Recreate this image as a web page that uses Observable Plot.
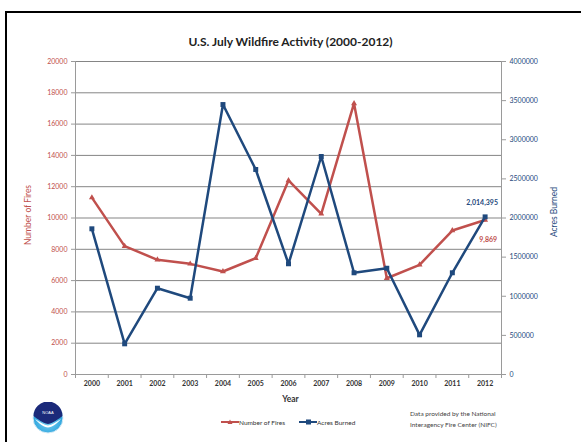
<!DOCTYPE html>
<html>
<head>
<meta charset="utf-8">
<script src="https://cdn.jsdelivr.net/npm/d3@7"></script>
<script src="https://cdn.jsdelivr.net/npm/@observablehq/plot@0.6"></script>
<style>
  html, body { margin: 0; padding: 0; background: #fff; }
  #wrap { position: relative; width: 581px; height: 442px; overflow: hidden; font-family: Lato, "Open Sans", sans-serif; }
  #border { position: absolute; left: 5px; top: 11px; width: 600px; height: 460px; border-left: 2px solid #000; border-top: 2px solid #000; }
  .abs { position: absolute; white-space: nowrap; }
  svg { position: absolute; left: 0; top: 0; }
</style>
</head>
<body>
<div id="wrap">
  <div id="border"></div>
  <div id="chart"></div>
  <div class="abs" style="left:0;width:581px;top:34px;text-align:center;font-weight:bold;font-size:12px;color:#222;">U.S. July Wildfire Activity (2000-2012)</div>
  <div class="abs" style="left:0;width:581px;top:394px;text-align:center;font-weight:bold;font-size:8.5px;color:#333;">Year</div>
  <div class="abs" style="left:28px;top:215px;transform:translate(-50%,-50%) rotate(-90deg);font-size:8.5px;color:#c0504d;">Number of Fires</div>
  <div class="abs" style="left:554px;top:212px;transform:translate(-50%,-50%) rotate(-90deg);font-size:8.5px;color:#1f497d;">Acres Burned</div>
  <div class="abs" style="left:221px;top:418px;font-size:6.5px;color:#333;display:flex;align-items:center;">
    <svg width="18" height="8" style="position:static"><line x1="0" y1="4" x2="18" y2="4" stroke="#c0504d" stroke-width="2"/><path d="M9,1.5 L11.5,6 L6.5,6Z" fill="#c0504d"/></svg>
    <span>Number of Fires</span>
    <span style="display:inline-block;width:14px"></span>
    <svg width="18" height="8" style="position:static"><line x1="0" y1="4" x2="18" y2="4" stroke="#1f497d" stroke-width="2"/><rect x="7" y="1.5" width="5" height="5" fill="#1f497d"/></svg>
    <span>Acres Burned</span>
  </div>
  <div class="abs" style="left:410px;top:408px;font-size:6.5px;color:#444;line-height:11px;">Data provided by the National<br>Interagency Fire Center (NIFC)</div>
  <svg class="abs" style="left:32px;top:402px" width="32" height="32" viewBox="0 0 32 32">
    <defs><radialGradient id="g" cx="50%" cy="60%" r="60%"><stop offset="0" stop-color="#7fd3f5"/><stop offset="1" stop-color="#1a9ad8"/></radialGradient></defs>
    <circle cx="16" cy="16" r="15" fill="url(#g)" stroke="#d6eaf5" stroke-width="1"/>
    <path d="M1.5,14 A14.5,14.5 0 0 1 30.5,14 C26,17 22,21 16,22 C10,21 6,17 1.5,14Z" fill="#1b2a7a"/>
    <path d="M3,17 C8,20 12,23 16,23.5 C20,23 24,20 29,17 C25,22 20,25 16,25.5 C12,25 7,22 3,17Z" fill="#fff"/>
    <text x="16" y="12" font-size="4" fill="#fff" text-anchor="middle" font-family="sans-serif">NOAA</text>
  </svg>
</div>
<script>
const years = [2000, 2001, 2002, 2003, 2004, 2005, 2006, 2007, 2008, 2009, 2010, 2011, 2012];
const fires = [11300, 8200, 7330, 7070, 6580, 7430, 12400, 10270, 17320, 6150, 7010, 9200, 9869];
const acres = [1862000, 392000, 1103000, 975000, 3450000, 2620000, 1415000, 2786000, 1300000, 1358000, 507000, 1300000, 2014395];
const fireTicks = [0, 2000, 4000, 6000, 8000, 10000, 12000, 14000, 16000, 18000, 20000];
const acresTicks = [0, 500000, 1000000, 1500000, 2000000, 2500000, 3000000, 3500000, 4000000];
const fireMax = 20000, acresMax = 4000000;
const labelFires = "9,869", labelAcres = "2,014,395";

const k = fireMax / acresMax;
const rows = years.map((y, i) => ({year: y, fires: fires[i], acres: acres[i], acresScaled: acres[i] * k}));
const bounds = d3.range(years[0] - 0.5, years[years.length - 1] + 1, 1);
const red = "#c0504d", blue = "#1f497d";
const last = rows[rows.length - 1];

const chart = Plot.plot({
  width: 581, height: 442,
  marginLeft: 75, marginRight: 80, marginTop: 61, marginBottom: 68,
  style: {fontFamily: "Lato, 'Open Sans', sans-serif", background: "transparent"},
  x: {type: "linear", domain: [years[0] - 0.5, years[years.length - 1] + 0.5], axis: null},
  y: {domain: [0, fireMax], axis: null},
  marks: [
    Plot.ruleY(fireTicks.slice(1), {stroke: "#858585", strokeWidth: 1}),
    Plot.ruleY([0], {stroke: "#9a9a9a"}),
    Plot.ruleX(bounds.slice(0, 1).concat(bounds.slice(-1)), {stroke: "#9a9a9a"}),
    Plot.axisX({ticks: bounds, tickFormat: () => "", tickSize: 4, stroke: "#9a9a9a", label: null}),
    Plot.text(years, {x: d => d, text: d => String(d), frameAnchor: "bottom", dy: 11, fontSize: 7, fontWeight: "bold", fill: "#333"}),
    Plot.axisY({ticks: fireTicks, anchor: "left", tickSize: 4, tickPadding: 4, stroke: "#9a9a9a", fill: red, fontSize: 7, label: null, tickFormat: d => String(d)}),
    Plot.axisY(acresTicks.map(d => d * k), {anchor: "right", tickSize: 4, tickPadding: 4, stroke: "#9a9a9a", fill: blue, fontSize: 7, label: null, tickFormat: d => String(Math.round(d / k))}),
    Plot.line(rows, {x: "year", y: "fires", stroke: red, strokeWidth: 2.5}),
    Plot.dot(rows, {x: "year", y: "fires", symbol: "triangle", r: 2.2, fill: red}),
    Plot.line(rows, {x: "year", y: "acresScaled", stroke: blue, strokeWidth: 2.5}),
    Plot.dot(rows, {x: "year", y: "acresScaled", symbol: "square", r: 2.8, fill: blue}),
    Plot.text([last], {x: "year", y: "acresScaled", text: () => labelAcres, dy: -14, dx: -3, fontSize: 7, fontWeight: "bold", fill: blue}),
    Plot.text([last], {x: "year", y: "fires", text: () => labelFires, dy: 20, dx: 3, fontSize: 7, fontWeight: "bold", fill: red})
  ]
});
document.getElementById("chart").appendChild(chart);
</script>
</body>
</html>
